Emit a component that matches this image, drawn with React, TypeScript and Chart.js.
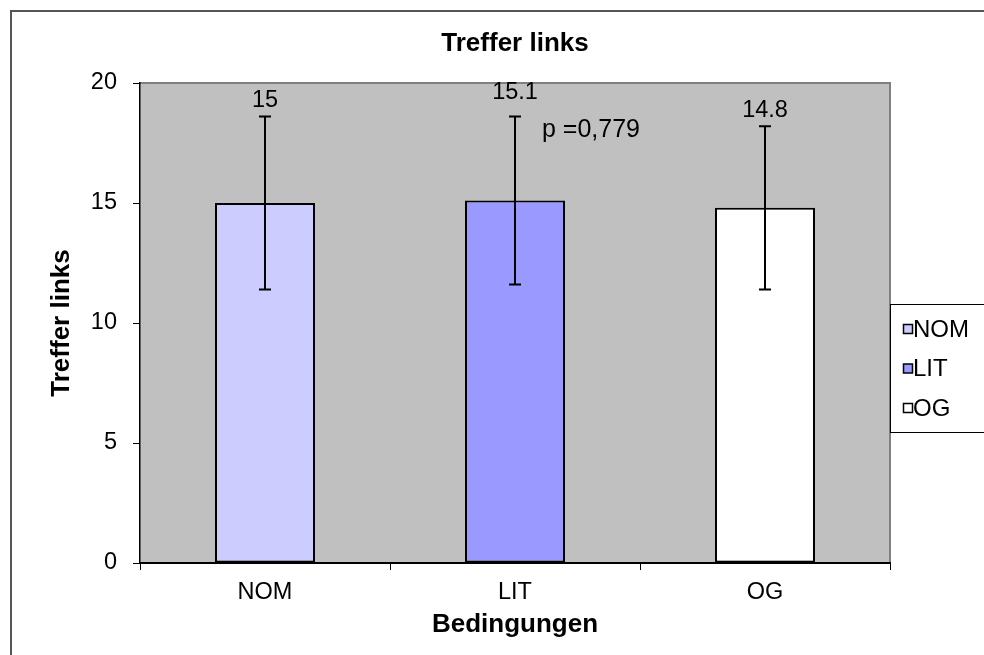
import React, { useEffect, useRef } from 'react';
import { Chart, registerables } from 'chart.js';

Chart.register(...registerables);

// ---- data ----
const categories = ['NOM', 'LIT', 'OG'];
const means = [15, 15.1, 14.8];
const errLow = [11.4, 11.6, 11.4];
const errHigh = [18.6, 18.6, 18.2];
const valueLabels = ['15', '15.1', '14.8'];
const yTicks = [0, 5, 10, 15, 20];
const barColors = ['#CCCCFF', '#9999FF', '#FFFFFF'];
const chartTitle = 'Treffer links';
const yTitle = 'Treffer links';
const xTitle = 'Bedingungen';
const pNote = 'p =0,779';

const FONT = "'Liberation Sans', Arial, sans-serif";

const decorPlugin = {
  id: 'decor',
  beforeDraw(chart: any) {
    const { ctx, chartArea: a } = chart;
    ctx.save();
    ctx.fillStyle = '#FFFFFF';
    ctx.fillRect(0, 0, chart.width, chart.height);
    // outer chart frame
    ctx.strokeStyle = '#555555';
    ctx.lineWidth = 2;
    ctx.strokeRect(11, 11, chart.width + 20, chart.height + 20);
    // plot area
    ctx.fillStyle = '#C0C0C0';
    ctx.fillRect(a.left, a.top, a.right - a.left, a.bottom - a.top);
    ctx.strokeStyle = '#808080';
    ctx.lineWidth = 2;
    ctx.beginPath();
    ctx.moveTo(a.left, a.top);
    ctx.lineTo(a.right, a.top);
    ctx.lineTo(a.right, a.bottom);
    ctx.stroke();
    ctx.restore();
  },
  afterDatasetsDraw(chart: any) {
    const { ctx } = chart;
    const meta = chart.getDatasetMeta(0);
    const y = chart.scales.y;
    const labelGap = [10, 18, 9];
    ctx.save();
    ctx.strokeStyle = '#000000';
    ctx.lineWidth = 2;
    meta.data.forEach((bar: any, i: number) => {
      const x = bar.x;
      const yl = y.getPixelForValue(errLow[i]);
      const yh = y.getPixelForValue(errHigh[i]);
      ctx.beginPath();
      ctx.moveTo(x, yl);
      ctx.lineTo(x, yh);
      ctx.moveTo(x - 6, yl);
      ctx.lineTo(x + 6, yl);
      ctx.moveTo(x - 6, yh);
      ctx.lineTo(x + 6, yh);
      ctx.stroke();
      ctx.fillStyle = '#000000';
      ctx.font = `23.5px ${FONT}`;
      ctx.textAlign = 'center';
      ctx.textBaseline = 'alphabetic';
      ctx.fillText(valueLabels[i], x, yh - labelGap[i]);
    });
    // significance note next to LIT
    const lit = meta.data[1];
    ctx.font = `25px ${FONT}`;
    ctx.textAlign = 'left';
    ctx.textBaseline = 'alphabetic';
    ctx.fillText(pNote, lit.x + 27, y.getPixelForValue(17.75));
    ctx.restore();
  },
  afterDraw(chart: any) {
    const { ctx, chartArea: a } = chart;
    const lx = a.right;
    const ly = a.top + 221;
    ctx.save();
    ctx.fillStyle = '#FFFFFF';
    ctx.fillRect(lx, ly, 120, 128);
    ctx.strokeStyle = '#000000';
    ctx.lineWidth = 1;
    ctx.strokeRect(lx + 0.5, ly + 0.5, 120, 128);
    ctx.font = `24px ${FONT}`;
    ctx.textAlign = 'left';
    ctx.textBaseline = 'middle';
    categories.forEach((c, i) => {
      const cy = ly + 25 + i * 39.5;
      ctx.fillStyle = barColors[i];
      ctx.fillRect(lx + 13.5, cy - 4.5, 9, 9);
      ctx.strokeStyle = '#000000';
      ctx.lineWidth = 1.5;
      ctx.strokeRect(lx + 13.5, cy - 4.5, 9, 9);
      ctx.fillStyle = '#000000';
      ctx.fillText(c, lx + 23, cy + 1);
    });
    ctx.restore();
  },
};

export default function App() {
  const ref = useRef<HTMLCanvasElement>(null);
  useEffect(() => {
    Chart.defaults.font.family = FONT;
    const chart = new Chart(ref.current as HTMLCanvasElement, {
      type: 'bar',
      data: {
        labels: categories,
        datasets: [
          {
            data: means,
            backgroundColor: barColors,
            borderColor: '#000000',
            borderWidth: 2,
            borderSkipped: false,
            barPercentage: 0.4,
            categoryPercentage: 1,
          },
        ],
      },
      options: {
        animation: false,
        responsive: false,
        devicePixelRatio: 1,
        layout: { padding: { left: 40, top: 12, right: 94, bottom: 0 } },
        plugins: {
          legend: { display: false },
          tooltip: { enabled: false },
          title: {
            display: true,
            text: chartTitle,
            fullSize: false,
            color: '#000000',
            font: { size: 26, weight: 'bold' },
            padding: { top: 16.4, bottom: 23.4 },
          },
        },
        scales: {
          x: {
            grid: {
              offset: true,
              drawOnChartArea: false,
              drawTicks: true,
              tickLength: 7,
              color: '#000000',
              lineWidth: 1,
            },
            border: { display: true, color: '#000000', width: 2 },
            ticks: { color: '#000000', font: { size: 23.5 }, padding: 8 },
            title: {
              display: true,
              text: xTitle,
              color: '#000000',
              font: { size: 26, weight: 'bold' },
              padding: { top: 0, bottom: 14.4 },
            },
            afterFit: (s: any) => {
              s.height = 92;
            },
          },
          y: {
            min: 0,
            max: 20,
            grid: {
              drawOnChartArea: false,
              drawTicks: true,
              tickLength: 7,
              color: '#000000',
              lineWidth: 1,
            },
            border: { display: true, color: '#000000', width: 1.5 },
            ticks: { color: '#000000', font: { size: 23.5 }, padding: 16, stepSize: 5 },
            afterBuildTicks: (s: any) => {
              s.ticks = yTicks.map((v) => ({ value: v }));
            },
            title: {
              display: true,
              text: yTitle,
              color: '#000000',
              font: { size: 26, weight: 'bold' },
              padding: { top: 6, bottom: 0 },
            },
            afterFit: (s: any) => {
              s.width = 100;
            },
          },
        },
      },
      plugins: [decorPlugin],
    } as any);
    return () => chart.destroy();
  }, []);
  return (
    <div style={{ position: 'fixed', left: 0, top: 0, width: 984, height: 655 }}>
      <canvas ref={ref} width={984} height={655} style={{ display: 'block' }} />
    </div>
  );
}
